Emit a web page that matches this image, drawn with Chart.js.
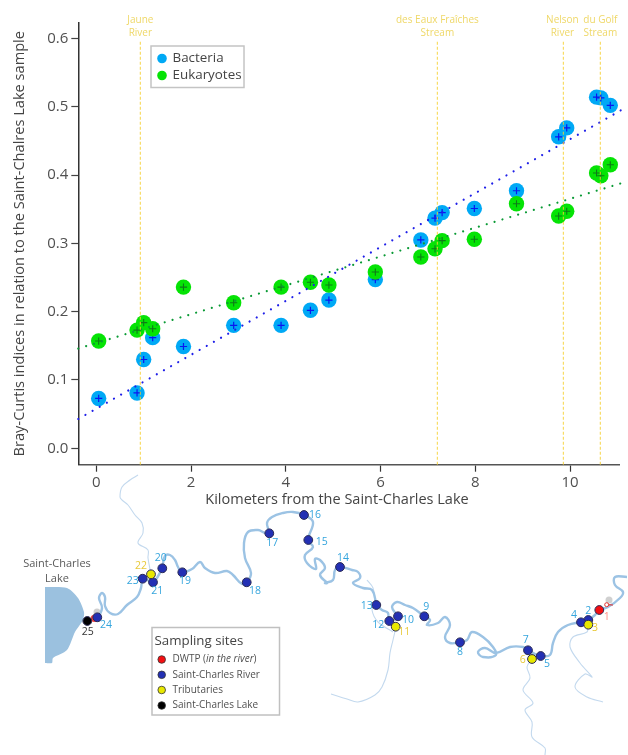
<!DOCTYPE html>
<html><head><meta charset="utf-8">
<script src="https://cdn.jsdelivr.net/npm/chart.js@4"></script>
<style>html,body{margin:0;padding:0;background:#fff}canvas{position:absolute;left:0;top:0}</style>
</head><body>
<canvas id="map" width="628" height="755"></canvas>
<canvas id="plot" width="628" height="515"></canvas>
<script>
// ---- plot data ----
const kmValues = [0.05,0.86,1.0,1.19,1.84,2.9,3.9,4.52,4.91,5.89,6.85,7.15,7.3,7.98,8.87,9.76,9.93,10.56,10.65,10.85];
const bacteria = [0.073,0.081,0.130,0.162,0.149,0.180,0.180,0.202,0.217,0.247,0.305,0.337,0.345,0.351,0.377,0.456,0.469,0.514,0.513,0.502];
const eukaryotes = [0.157,0.173,0.184,0.175,0.236,0.213,0.236,0.243,0.239,0.258,0.280,0.292,0.304,0.306,0.358,0.340,0.347,0.403,0.399,0.415];
const bacteriaTrend = [[-0.38,0.043],[11.18,0.499]];
const eukaryoteTrend = [[-0.38,0.146],[11.13,0.389]];
const tributaryKm = [0.93,7.2,9.86,10.64];
const tributaryNames = [["Jaune","River"],["des Eaux Fraîches","Stream"],["Nelson","River"],["du Golf","Stream"]];
const xTicks = [0,2,4,6,8,10];
const yTicks = [0,0.1,0.2,0.3,0.4,0.5,0.6];
const xTitle = "Kilometers from the Saint-Charles Lake";
const yTitle = "Bray-Curtis indices in relation to the Saint-Chalres Lake sample";
const seriesNames = ["Bacteria","Eukaryotes"];

// ---- map data (map units) ----
const lakeOutline = [[45,587],[67,588],[78,598],[84,612],[83,620],[75,632],[67,650],[53,658],[52,663],[45,663]];
const mainRiver = [[86,620],[97,617],[102,608],[99,598],[102,593],[105,597],[105,606],[110,613],[118,614],[127,605],[137,597],[141,588],[143,579],[153,582],[157,578],[162,568],[165,556],[170,555],[175,560],[178,567],[182,572],[192,569],[200,562],[205,568],[215,573],[227,571],[233,575],[242,584],[247,582],[251,573],[245,558],[244,543],[248,532],[258,530],[265,533],[269,533],[267,523],[272,517],[283,513],[293,512],[304,515],[313,522],[308,540],[313,547],[305,555],[307,563],[316,569],[315,559],[320,560],[325,568],[320,575],[327,583],[325,583],[333,580],[335,570],[340,567],[352,570],[358,572],[360,578],[353,583],[363,588],[372,590],[377,605],[382,610],[388,613],[389,621],[397,617],[392,607],[397,602],[405,605],[413,608],[424,616],[430,620],[427,625],[438,623],[445,617],[450,625],[445,637],[450,643],[460,642],[467,640],[472,632],[483,637],[493,647],[496,655],[483,657],[478,652],[485,648],[496,653],[510,647],[523,647],[528,650],[537,655],[541,656],[550,655],[553,643],[558,632],[568,625],[581,622],[588,620],[595,615],[599,610],[608,607],[620,598],[623,592],[615,585],[615,577],[627,577]];
const tributaries = [
  [[151,574],[148,558],[148,550],[138,543],[143,533],[142,523],[135,515],[128,505],[122,500],[120,497],[122,487],[130,480],[138,475]],
  [[396,627],[393,640],[390,653],[388,670],[382,687],[375,695],[358,702],[347,699],[331,694]],
  [[367,580],[373,588],[375,605],[372,610],[378,622],[393,632]],
  [[532,659],[527,667],[530,678],[523,690],[533,703],[525,710],[532,722],[532,737],[545,748],[545,755]],
  [[588,625],[587,632],[573,637],[570,647],[580,663],[592,677],[585,674],[575,687],[587,697],[603,702]]
];
const outflowPin = [[606.7,604.7]];
const outflowStem = [[606.7,604.7],[613,605]];
const plantMarks = [[94.3,618.3]];
const smudges = [[97,612],[609,600]];
const siteIds = ["1","2","3","4","5","6","7","8","9","10","11","12","13","14","15","16","17","18","19","20","21","22","23","24","25"];
const siteX = [599.3,588.3,588.3,581,540.7,532,528,460,424.3,398,395.7,389.3,376.3,340,308.3,304,269.3,246.7,182.3,162.3,153,151,142.7,97.3,87.3];
const siteY = [610,620,624.7,622.3,656,659,650.3,642.3,616.3,616.3,626.7,621,605,567,540,515,533.3,582.3,572.3,568.3,582.3,574.3,578.7,617.3,621];
const labelX = [606.7,588.3,595,574,547,522.7,525.7,460,426.3,408,404.3,378.3,366.7,343,321.7,315,272.3,255,185,160.7,157.3,141,132.7,106,87.7];
const labelY = [616.7,611,628.3,615.3,663.7,660.3,640.3,652,606.7,620,632.3,625.3,606.3,558.3,542,515.3,543.3,590.7,581.3,558.3,591,566.3,581.3,625.3,632];
const siteKinds = ["dwtp","river","trib","river","river","trib","river","river","river","river","trib","river","river","river","river","river","river","river","river","river","river","trib","river","river","lake"];
const kindColors = {trib:"#e8e800",lake:"#000000",dwtp:"#f40f12",river:"#2330b4"};
const labelColors = {dwtp:"#ff8f88",river:"#35a5dd",trib:"#e8c93a",lake:"#333333"};
const legendKinds = [["dwtp"],["river","Saint-Charles River"],["trib","Tributaries"],["lake","Saint-Charles Lake"]];

const FONT = '"Open Sans", sans-serif';
const TXT = "#505050";
const pairs = a => a.map(p => ({x:p[0],y:p[1]}));

// ---- map chart ----
const kindSet = Object.keys(kindColors);
const siteDatasets = kindSet.map(k => ({
  type:"scatter", label:k, pointRadius:4.4, pointBorderWidth:1,
  pointBackgroundColor:kindColors[k], pointBorderColor:"#2a2a55",
  data:siteX.map((x,i)=>({x,y:siteY[i],k:siteKinds[i]})).filter(d=>d.k===k)
}));
const mapText = {
  id:"mapText",
  afterDraw(c){
    const {ctx,scales:{x,y}} = c;
    ctx.save();
    ctx.textAlign="center"; ctx.textBaseline="middle";
    ctx.font="10.5px "+FONT;
    siteIds.forEach((s,i)=>{
      ctx.fillStyle=labelColors[siteKinds[i]];
      ctx.fillText(s,x.getPixelForValue(labelX[i]),y.getPixelForValue(labelY[i]));
    });
    ctx.fillStyle="#5a5a5a"; ctx.font="11px "+FONT;
    ctx.fillText("Saint-Charles",57,563.5);
    ctx.fillText("Lake",57,579);
    // sampling sites box
    ctx.fillStyle="#fff"; ctx.strokeStyle="#c0c0c0"; ctx.lineWidth=1.5;
    ctx.fillRect(152,627.5,127.5,87.5); ctx.strokeRect(152,627.5,127.5,87.5);
    ctx.textAlign="left";
    ctx.fillStyle="#444"; ctx.font="13.3px "+FONT;
    ctx.fillText("Sampling sites",154.5,641.5);
    ctx.font="10px "+FONT; ctx.fillStyle=TXT;
    const ys=[659.5,674.8,690,705.5];
    legendKinds.forEach((row,i)=>{
      ctx.beginPath(); ctx.arc(161.7,ys[i],3.8,0,Math.PI*2);
      ctx.fillStyle=kindColors[row[0]]; ctx.fill();
      ctx.lineWidth=.8; ctx.strokeStyle="#333"; ctx.stroke();
      ctx.fillStyle=TXT;
      if(row[1]) ctx.fillText(row[1],172.5,ys[i]);
      else{
        let tx=172.5; const parts=[["DWTP (",false],["in the river",true],[")",false]];
        parts.forEach(p=>{
          ctx.font=(p[1]?"italic ":"")+"10px "+FONT;
          ctx.fillText(p[0],tx,ys[i]); tx+=ctx.measureText(p[0]).width;
        });
        ctx.font="10px "+FONT;
      }
    });
    ctx.restore();
  }
};
new Chart(document.getElementById("map"),{
  type:"scatter",
  data:{datasets:[
    ...siteDatasets,
    {type:"scatter",data:pairs(plantMarks),pointRadius:3.6,pointBackgroundColor:"#f04040",pointBorderWidth:0},
    {type:"scatter",data:pairs(outflowPin),pointRadius:2,pointBackgroundColor:"#fff",pointBorderColor:"#e03030",pointBorderWidth:1},
    {type:"line",data:pairs(outflowStem),borderColor:"#e03030",borderWidth:1.2,pointRadius:0},
    {type:"line",data:pairs(mainRiver),borderColor:"#9cc3e4",borderWidth:2.4,pointRadius:0,tension:.4},
    ...tributaries.map(t=>({type:"line",data:pairs(t),borderColor:"#c3d9ee",borderWidth:1.1,pointRadius:0,tension:.35})),
    {type:"scatter",data:pairs(smudges),pointRadius:3.5,pointBackgroundColor:"rgba(170,170,170,.55)",pointBorderWidth:0},
    {type:"line",data:pairs(lakeOutline),borderColor:"#9bc1df",backgroundColor:"#9bc1df",borderWidth:0,pointRadius:0,tension:.25,fill:"shape"}
  ]},
  options:{
    responsive:false,animation:false,devicePixelRatio:1,
    layout:{padding:0,autoPadding:false},
    plugins:{legend:{display:false},tooltip:{enabled:false}},
    scales:{
      x:{type:"linear",min:0,max:628,display:false},
      y:{type:"linear",min:0,max:755,reverse:true,display:false}
    }
  },
  plugins:[mapText]
});

// ---- main plot ----
const toPts = ys => kmValues.map((x,i)=>({x,y:ys[i]}));
const plotText = {
  id:"plotText",
  afterDraw(c){
    const {ctx,scales:{x,y}} = c;
    ctx.save();
    ctx.textAlign="center"; ctx.textBaseline="middle";
    ctx.fillStyle="#efd868"; ctx.font="10px "+FONT;
    tributaryKm.forEach((k,i)=>{
      const px=x.getPixelForValue(k)+(i===2?-1:0);
      ctx.fillText(tributaryNames[i][0],px,20);
      ctx.fillText(tributaryNames[i][1],px,33.5);
    });
    ctx.fillStyle="#444"; ctx.font="14.5px "+FONT;
    ctx.fillText(xTitle,337,500);
    // series legend
    ctx.fillStyle="#fff"; ctx.strokeStyle="#c4c4c4"; ctx.lineWidth=1.5;
    ctx.fillRect(151,46,93,41.5); ctx.strokeRect(151,46,93,41.5);
    const cols=["#00a9f5","#05e305"], ys=[58.5,75.5];
    ctx.textAlign="left"; ctx.font="13.4px "+FONT;
    seriesNames.forEach((n,i)=>{
      ctx.beginPath(); ctx.arc(162,ys[i],4.8,0,Math.PI*2); ctx.fillStyle=cols[i]; ctx.fill();
      ctx.fillStyle="#444"; ctx.fillText(n,172.5,ys[i]);
    });
    ctx.restore();
  }
};
new Chart(document.getElementById("plot"),{
  type:"scatter",
  data:{datasets:[
    ...tributaryKm.map(k=>({data:[{x:k,y:0.595},{x:k,y:-0.024}],showLine:true,pointRadius:0,borderColor:"rgba(245,208,50,.75)",borderWidth:1.2,borderDash:[3,2],clip:false})),
    {label:"Bacteria trend",data:pairs(bacteriaTrend),showLine:true,pointRadius:0,borderColor:"#1f1fe8",borderWidth:2.2,borderDash:[0.01,8.2],borderCapStyle:"round",clip:false},
    {label:"Eukaryotes trend",data:pairs(eukaryoteTrend),showLine:true,pointRadius:0,borderColor:"#0a9a35",borderWidth:2.2,borderDash:[0.01,8.2],borderCapStyle:"round",clip:false},
    {label:"Eukaryotes +",data:toPts(eukaryotes),pointStyle:"cross",pointRadius:3.6,pointBorderWidth:1.1,pointBorderColor:"#0e7a18",clip:false},
    {label:"Eukaryotes",data:toPts(eukaryotes),pointRadius:7.7,pointBorderWidth:0,pointBackgroundColor:"#05e305",clip:false},
    {label:"Bacteria +",data:toPts(bacteria),pointStyle:"cross",pointRadius:3.6,pointBorderWidth:1.2,pointBorderColor:"#0a16f0",clip:false},
    {label:"Bacteria",data:toPts(bacteria),pointRadius:7.7,pointBorderWidth:0,pointBackgroundColor:"#00a9f5",clip:false}
  ]},
  options:{
    responsive:false,animation:false,devicePixelRatio:1,
    layout:{padding:{top:22.7,right:8.7,left:0,bottom:0},autoPadding:false},
    plugins:{legend:{display:false},tooltip:{enabled:false}},
    scales:{
      x:{type:"linear",min:-0.38,max:11.04,
        afterFit:s=>{s.height=50.3},
        afterBuildTicks:s=>{s.ticks=xTicks.map(v=>({value:v}))},
        grid:{display:true,drawOnChartArea:false,drawTicks:true,tickLength:7,tickColor:"#333",tickWidth:1.2},
        border:{display:true,color:"#555",width:1.5},
        ticks:{color:TXT,font:{family:FONT,size:15},padding:2,maxRotation:0,autoSkip:false}
      },
      y:{type:"linear",min:-0.024,max:0.623,
        afterFit:s=>{s.width=78.3},
        afterBuildTicks:s=>{s.ticks=yTicks.map(v=>({value:v}))},
        grid:{display:true,drawOnChartArea:false,drawTicks:true,tickLength:7,tickColor:"#444",tickWidth:1.2},
        border:{display:true,color:"#333",width:1.5},
        ticks:{color:TXT,font:{family:FONT,size:15},padding:3,autoSkip:false,callback:v=>v.toFixed(1)},
        title:{display:true,text:yTitle,color:"#444",font:{family:FONT,size:14.6},padding:{top:11,bottom:0}}
      }
    }
  },
  plugins:[plotText]
});
</script>
</body></html>
